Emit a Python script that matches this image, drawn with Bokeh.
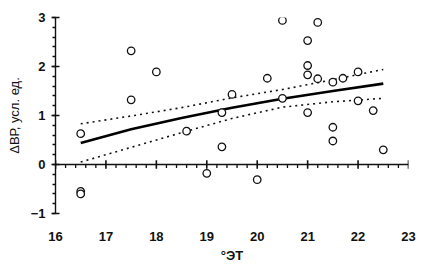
from bokeh.plotting import figure
from bokeh.models import FixedTicker, Range1d, Span
from bokeh.embed import file_html
from bokeh.resources import INLINE

# observed points
pts_x = [16.5, 16.5, 16.5, 17.5, 17.5, 18.0, 18.6, 19.0, 19.3, 19.3, 19.5, 20.0, 20.2,
         20.5, 20.5, 21.0, 21.0, 21.0, 21.0, 21.2, 21.2, 21.5, 21.5, 21.5, 21.7, 22.0,
         22.0, 22.3, 22.5]
pts_y = [0.63, -0.55, -0.60, 2.32, 1.32, 1.89, 0.68, -0.18, 1.06, 0.36, 1.43, -0.31, 1.76,
         2.94, 1.35, 2.53, 2.02, 1.83, 1.06, 2.90, 1.75, 1.68, 0.76, 0.48, 1.76, 1.89,
         1.30, 1.10, 0.30]

# fitted curve and confidence band
fit_x = [16.5, 17.5, 18.5, 19.5, 20.5, 21.5, 22.5]
fit_y = [0.44, 0.72, 0.95, 1.16, 1.34, 1.50, 1.65]
upper_y = [0.83, 0.99, 1.16, 1.36, 1.53, 1.73, 1.94]
lower_y = [0.05, 0.35, 0.65, 0.94, 1.17, 1.28, 1.35]

x_ticks = [16, 17, 18, 19, 20, 21, 22, 23]
y_ticks = [-1, 0, 1, 2, 3]
x_minor = [round(16 + i * 0.2, 2) for i in range(36) if i % 5 != 0]
y_minor = [round(-1 + i * 0.2, 2) for i in range(21)]

FONT = "Liberation Sans"
INK = "#111111"

p = figure(width=426, height=265, output_backend="svg", toolbar_location=None,
           x_range=Range1d(16, 23), y_range=Range1d(-1, 3),
           min_border_left=55, min_border_right=18, min_border_top=17, min_border_bottom=51)
p.outline_line_color = None
p.xgrid.visible = False
p.ygrid.visible = False
p.background_fill_color = "white"
p.border_fill_color = "white"

# bottom axis: labels only
xa = p.xaxis[0]
xa.ticker = FixedTicker(ticks=x_ticks)
xa.axis_line_color = None
xa.major_tick_line_color = None
xa.minor_tick_line_color = None
xa.major_label_standoff = 12
xa.major_label_text_font = FONT
xa.major_label_text_font_size = "13px"
xa.major_label_text_font_style = "bold"
xa.major_label_text_color = INK
xa.axis_label = "°ЭТ"
xa.axis_label_text_font = FONT
xa.axis_label_text_font_size = "13px"
xa.axis_label_text_font_style = "bold"
xa.axis_label_text_color = INK
xa.axis_label_standoff = 4

# x axis line at y = 0, with ticks built from the tick arrays
p.add_layout(Span(location=0, dimension="width", line_color=INK, line_width=1.4))
p.segment(x0=x_ticks, y0=[0.085] * len(x_ticks), x1=x_ticks, y1=[-0.085] * len(x_ticks),
          line_color=INK, line_width=1.6)
p.segment(x0=x_minor, y0=[0] * len(x_minor), x1=x_minor, y1=[-0.07] * len(x_minor),
          line_color=INK, line_width=1.3)

ya = p.yaxis[0]
ya.ticker = FixedTicker(ticks=y_ticks, minor_ticks=y_minor)
ya.axis_line_color = INK
ya.axis_line_width = 1.4
ya.major_tick_line_color = INK
ya.major_tick_line_width = 1.6
ya.major_tick_in = 4
ya.major_tick_out = 4
ya.minor_tick_line_color = INK
ya.minor_tick_line_width = 1.3
ya.minor_tick_in = 0
ya.minor_tick_out = 3
ya.major_label_standoff = 6
ya.major_label_text_font = FONT
ya.major_label_text_font_size = "13px"
ya.major_label_text_font_style = "bold"
ya.major_label_text_color = INK
ya.axis_label = "ΔВР, усл. ед."
ya.axis_label_text_font = FONT
ya.axis_label_text_font_size = "13px"
ya.axis_label_text_font_style = "normal"
ya.axis_label_text_color = INK
ya.axis_label_standoff = 6

p.line(fit_x, upper_y, line_color=INK, line_width=1.6, line_dash="2 4")
p.line(fit_x, lower_y, line_color=INK, line_width=1.6, line_dash="2 4")
p.line(fit_x, fit_y, line_color="black", line_width=2.6)
p.scatter(pts_x, pts_y, size=7.5, marker="circle", fill_color="white",
          line_color=INK, line_width=1.3)

open("out.html", "w").write(file_html(p, INLINE))
